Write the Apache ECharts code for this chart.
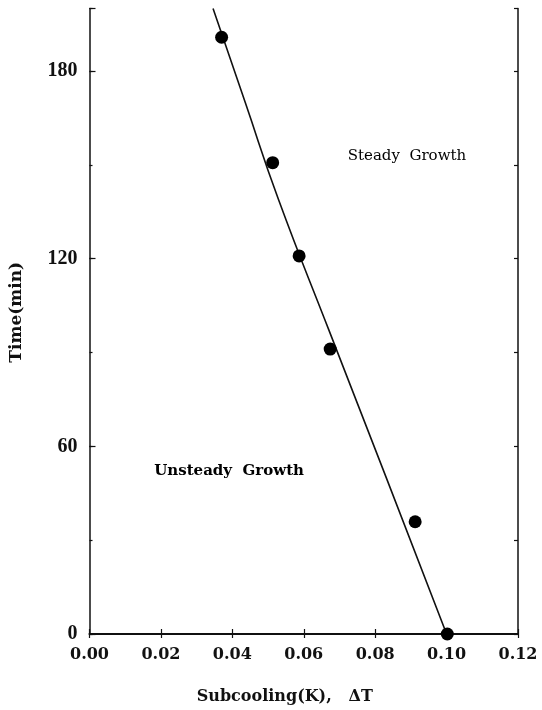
<!DOCTYPE html>
<html>
<head>
<meta charset="utf-8">
<script src="https://cdn.jsdelivr.net/npm/echarts@6/dist/echarts.min.js"></script>
<style>
  html, body { margin: 0; padding: 0; background: #fff; }
  #chart { width: 542px; height: 710px; }
</style>
</head>
<body>
<div id="chart"></div>
<script>
// Measured points: subcooling ΔT (K) vs time (min)
const pointsDT   = [0.0370, 0.0513, 0.0587, 0.0674, 0.0912, 0.1002];
const pointsTime = [190.8, 150.7, 120.9, 91.1, 35.9, 0];

// Boundary curve between unsteady and steady growth
const curveDT   = [0.1000, 0.0831, 0.0671, 0.0529, 0.0436, 0.0346];
const curveTime = [0, 50, 97, 139, 170, 200];

// Region annotations (anchored in data coordinates)
const annotationText = ['Steady  Growth', 'Unsteady  Growth'];
const annotationDT   = [0.0889, 0.0391];
const annotationTime = [152.8, 52.2];

// Tick labels
const xTickLabels = ['0.00', '0.02', '0.04', '0.06', '0.08', '0.10', '0.12'];
const yTickLabels = ['0', '60', '120', '180'];

const INK = '#111';
const chart = echarts.init(document.getElementById('chart'), null, { renderer: 'canvas' });

const xIndexOf = v => Math.round(v / 0.02);
const yIndexOf = v => Math.round(v / 60);

const option = {
  animation: false,
  backgroundColor: '#fff',
  grid: { left: 89.5, right: 24, top: 8.5, bottom: 76, containLabel: false },
  xAxis: [
    {
      type: 'value', position: 'bottom', min: 0, max: 0.12, interval: 0.02,
      name: 'Subcooling(K),   ΔT', nameLocation: 'middle', nameGap: 55,
      nameTextStyle: { fontFamily: 'DejaVu Serif', fontWeight: 'bold', fontSize: 16, color: INK, padding: [0, 38, 0, 0] },
      axisLine: { show: true, lineStyle: { color: INK, width: 2 } },
      axisTick: { show: true, inside: true, length: 5, lineStyle: { color: INK, width: 1.2 } },
      axisLabel: {
        margin: 13, fontFamily: 'DejaVu Serif', fontWeight: 'bold', fontSize: 16, color: INK,
        formatter: v => { const i = xIndexOf(v); return (Math.abs(v - i * 0.02) < 1e-9 && xTickLabels[i]) ? xTickLabels[i] : ''; }
      },
      splitLine: { show: false }
    },
    {
      type: 'value', position: 'top', min: 0, max: 0.12, interval: 0.02,
      axisLine: { show: true, lineStyle: { color: INK, width: 1.5 } },
      axisTick: { show: true, inside: true, length: 4, lineStyle: { color: INK, width: 1.2 } },
      axisLabel: { show: false },
      splitLine: { show: false }
    }
  ],
  yAxis: [
    {
      type: 'value', position: 'left', min: 0, max: 200, interval: 60,
      name: 'Time(min)', nameLocation: 'middle', nameGap: 64,
      nameTextStyle: { fontFamily: 'DejaVu Serif', fontWeight: 'bold', fontSize: 17, color: INK, padding: [0, 0, 0, 18] },
      axisLine: { show: true, lineStyle: { color: INK, width: 1.5 } },
      axisTick: { show: true, inside: true, length: 6, lineStyle: { color: INK, width: 1.2 } },
      axisLabel: {
        margin: 12, fontFamily: 'Liberation Serif', fontWeight: 'bold', fontSize: 20, color: INK,
        formatter: v => { const i = yIndexOf(v); return (Math.abs(v - i * 60) < 1e-9 && yTickLabels[i]) ? yTickLabels[i] : ''; }
      },
      splitLine: { show: false }
    },
    {
      type: 'value', position: 'left', min: 0, max: 200, interval: 30,
      axisLine: { show: false },
      axisTick: { show: true, inside: true, length: 3, lineStyle: { color: INK, width: 1.2 } },
      axisLabel: { show: false },
      splitLine: { show: false }
    },
    {
      type: 'value', position: 'right', min: 0, max: 200, interval: 30,
      axisLine: { show: true, lineStyle: { color: INK, width: 1.5 } },
      axisTick: { show: true, inside: true, length: 4, lineStyle: { color: INK, width: 1.2 } },
      axisLabel: { show: false },
      splitLine: { show: false }
    }
  ],
  series: [
    {
      name: 'Boundary', type: 'line', xAxisIndex: 0, yAxisIndex: 0,
      data: curveDT.map((v, i) => [v, curveTime[i]]),
      smooth: 0.5, showSymbol: false, symbol: 'none',
      lineStyle: { color: INK, width: 1.6, opacity: 1 }, z: 2
    },
    {
      name: 'Measured', type: 'scatter', xAxisIndex: 0, yAxisIndex: 0,
      data: pointsDT.map((v, i) => [v, pointsTime[i]]),
      symbol: 'circle', symbolSize: 13,
      itemStyle: { color: '#000', opacity: 1 },
      emphasis: { disabled: true }, z: 3
    },
    {
      name: 'Regions', type: 'scatter', xAxisIndex: 0, yAxisIndex: 0,
      symbolSize: 0, silent: true,
      data: annotationText.map((t, i) => ({ name: t, value: [annotationDT[i], annotationTime[i]] })),
      label: {
        show: true, position: 'inside', formatter: p => p.name, color: '#000', opacity: 1,
        fontFamily: 'DejaVu Serif', fontSize: 15
      },
      labelLayout: { hideOverlap: false },
      itemStyle: { color: '#000', opacity: 1 },
      emphasis: { disabled: true }
    }
  ]
};
// Unsteady label is bold in the reference
option.series[2].data[1].label = { fontWeight: 'bold' };

chart.setOption(option);
</script>
</body>
</html>
